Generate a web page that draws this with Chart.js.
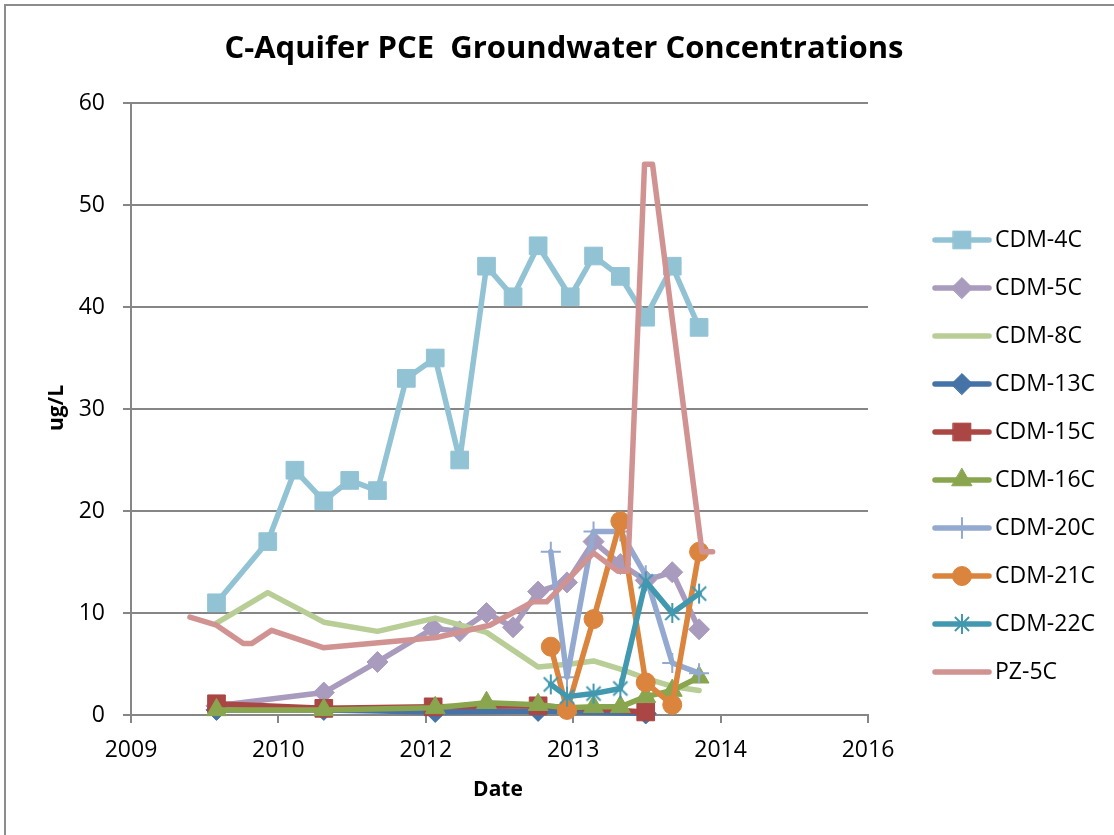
<!DOCTYPE html>
<html><head><meta charset="utf-8">
<script src="https://cdn.jsdelivr.net/npm/chart.js@4.4.1/dist/chart.umd.min.js"></script>
<style>
html,body{margin:0;padding:0;background:#fff;overflow:hidden;}
#wrap{position:relative;width:1114px;height:835px;}
</style></head><body>
<div id="wrap"><canvas id="c"></canvas></div>
<script>
// ---- Data (x = Excel serial date, y = ug/L) ----
const seriesNames = ['CDM-4C','CDM-5C','CDM-8C','CDM-13C','CDM-15C','CDM-16C','CDM-20C','CDM-21C','CDM-22C','PZ-5C'];

const cdm4cDates  = [40290,40464,40556,40654,40742,40836,40934,41032,41115,41206,41296,41381,41490,41569,41660,41746,41836,41927];
const cdm4cValues = [11,17,24,21,23,22,33,35,25,44,41,46,41,45,43,39,44,38];

const cdm5cDates  = [40290,40654,40836,41025,41115,41206,41296,41381,41479,41569,41660,41746,41836,41927];
const cdm5cValues = [0.9,2.2,5.2,8.5,8.2,10,8.6,12.1,13,17,14.8,13.2,14,8.4];

const cdm8cDates  = [40290,40464,40654,40836,41032,41206,41381,41490,41569,41660,41746,41836,41927];
const cdm8cValues = [9,12,9.1,8.2,9.5,8.1,4.7,5.0,5.3,4.5,3.6,2.8,2.4];

const cdm13cDates  = [40290,40654,41032,41381,41746];
const cdm13cValues = [0.5,0.5,0.3,0.4,0.15];

const cdm15cDates  = [40290,40654,41025,41381,41746];
const cdm15cValues = [1.1,0.65,0.8,0.9,0.3];

const cdm16cDates  = [40290,40654,41032,41206,41381,41479,41569,41660,41746,41836,41927];
const cdm16cValues = [0.5,0.5,0.7,1.2,1.0,0.7,0.8,0.8,1.8,2.4,3.7];

const cdm20cDates  = [41424,41479,41569,41660,41746,41836,41927];
const cdm20cValues = [16,3.7,18,18,13.7,5.1,4.1];

const cdm21cDates  = [41424,41479,41569,41660,41746,41836,41927];
const cdm21cValues = [6.7,0.5,9.4,19,3.2,1.0,16];

const cdm22cDates  = [41424,41479,41569,41660,41746,41836,41927];
const cdm22cValues = [3.0,1.8,2.1,2.6,13.1,10.0,11.9];

const pz5cDates  = [40200,40290,40381,40409,40477,40652,41036,41217,41364,41410,41569,41651,41685,41742,41769,41937,41973];
const pz5cValues = [9.6,8.8,7.0,7.0,8.3,6.6,7.6,8.8,11.1,11.1,15.9,14.1,14.1,54,54,16,16];

const xTickValues = [40000,40500,41000,41500,42000,42500];
const yTickValues = [0,10,20,30,40,50,60];

// ---- Styles ----
const colors = ['#92C3D5','#A99BBD','#B9CD96','#4572A7','#AA4643','#89A54E','#93A9CF','#DB843D','#4198AF','#D19392'];

function makeStar(color){
  const c = document.createElement('canvas');
  c.width = 22; c.height = 22;
  const g = c.getContext('2d');
  g.strokeStyle = color; g.lineWidth = 2; g.lineCap = 'butt';
  const cx = 11, cy = 11, r = 10;
  g.beginPath();
  g.moveTo(cx, cy - r); g.lineTo(cx, cy + r);
  const a = Math.PI/4;
  g.moveTo(cx - r*Math.cos(a), cy - r*Math.sin(a)); g.lineTo(cx + r*Math.cos(a), cy + r*Math.sin(a));
  g.moveTo(cx - r*Math.cos(a), cy + r*Math.sin(a)); g.lineTo(cx + r*Math.cos(a), cy - r*Math.sin(a));
  g.stroke();
  return c;
}
const starImg = makeStar(colors[8]);

const markerStyles = [
  {pointStyle:'rect', radius:12.5, bw:1},
  {pointStyle:'rectRot', radius:10.5, bw:1},
  {pointStyle:false, radius:0, bw:0},
  {pointStyle:'rectRot', radius:10.5, bw:1},
  {pointStyle:'rect', radius:12.5, bw:1},
  {pointStyle:'triangle', radius:11.5, bw:1},
  {pointStyle:'cross', radius:10, bw:2},
  {pointStyle:'circle', radius:9.5, bw:1},
  {pointStyle:starImg, radius:10, bw:2},
  {pointStyle:false, radius:0, bw:0}
];

const allDates = [cdm4cDates,cdm5cDates,cdm8cDates,cdm13cDates,cdm15cDates,cdm16cDates,cdm20cDates,cdm21cDates,cdm22cDates,pz5cDates];
const allValues = [cdm4cValues,cdm5cValues,cdm8cValues,cdm13cValues,cdm15cValues,cdm16cValues,cdm20cValues,cdm21cValues,cdm22cValues,pz5cValues];

const datasets = seriesNames.map((name,i)=>{
  const m = markerStyles[i];
  return {
    label: name,
    data: allDates[i].map((d,j)=>({x:d, y:allValues[i][j]})),
    borderColor: colors[i],
    backgroundColor: colors[i],
    borderWidth: 5.5,
    borderCapStyle: 'round',
    borderJoinStyle: 'round',
    tension: 0,
    pointStyle: m.pointStyle === false ? 'circle' : m.pointStyle,
    pointRadius: m.radius,
    pointHoverRadius: m.radius,
    pointBorderWidth: m.bw,
    pointBackgroundColor: colors[i],
    pointBorderColor: colors[i],
    clip: false,
    order: seriesNames.length - i
  };
});

function serialToYear(v){
  return new Date(Date.UTC(1899,11,30) + v*86400000).getUTCFullYear();
}

const FONT = "'Open Sans', 'Noto Sans', sans-serif";
const gridColor = '#868686';

const decorPlugin = {
  id: 'decor',
  beforeDraw(chart){
    const ctx = chart.ctx;
    ctx.save();
    ctx.fillStyle = '#fff';
    ctx.fillRect(0,0,chart.width,chart.height);
    ctx.strokeStyle = '#8c8c8c';
    ctx.lineWidth = 2;
    ctx.beginPath();
    ctx.moveTo(5, chart.height); ctx.lineTo(5,5); ctx.lineTo(chart.width,5);
    ctx.stroke();
    ctx.restore();
  },
  afterDraw(chart){
    const ctx = chart.ctx;
    ctx.save();
    ctx.fillStyle = '#000';
    ctx.textAlign = 'center';
    ctx.textBaseline = 'middle';
    ctx.font = "bold 31px " + FONT;
    ctx.fillText('C-Aquifer PCE  Groundwater Concentrations', 564, 49);
    ctx.font = "bold 21px " + FONT;
    ctx.fillText('Date', 498, 790);
    ctx.save();
    ctx.translate(57, 408);
    ctx.rotate(-Math.PI/2);
    ctx.fillText('ug/L', 0, 0);
    ctx.restore();
    // legend
    const H = Chart.helpers;
    chart.data.datasets.forEach((ds,i)=>{
      const y = 240 + i*48;
      ctx.strokeStyle = ds.borderColor;
      ctx.lineWidth = 5.5;
      ctx.lineCap = 'round';
      ctx.beginPath(); ctx.moveTo(935,y); ctx.lineTo(989,y); ctx.stroke();
      const m = markerStyles[i];
      if (m.pointStyle !== false){
        ctx.fillStyle = ds.borderColor;
        ctx.strokeStyle = ds.borderColor;
        ctx.lineWidth = m.bw;
        H.drawPoint(ctx, {pointStyle:m.pointStyle, rotation:0, radius:m.radius, borderWidth:m.bw}, 962, y);
      }
      ctx.fillStyle = '#000';
      ctx.textAlign = 'left';
      ctx.textBaseline = 'middle';
      ctx.font = "23px " + FONT;
      ctx.fillText(ds.label, 995, y);
    });
    ctx.restore();
  }
};

new Chart(document.getElementById('c'), {
  type: 'line',
  data: { datasets },
  options: {
    responsive: true,
    maintainAspectRatio: false,
    animation: false,
    events: [],
    layout: { padding: { left: 0, top: 103, right: 246, bottom: 0 } },
    plugins: { legend: { display: false }, title: { display: false }, tooltip: { enabled: false } },
    scales: {
      x: {
        type: 'linear',
        min: 40000, max: 42500,
        afterBuildTicks(scale){ scale.ticks = xTickValues.map(v=>({value:v})); },
        afterFit(scale){ scale.height = 120; },
        ticks: { color:'#000', font:{family:FONT, size:23}, padding: 14, maxRotation:0, autoSkip:false,
                 callback: v => String(serialToYear(v)) },
        grid: { display:true, drawOnChartArea:false, drawTicks:true, tickLength:8, color:gridColor, lineWidth:2 },
        border: { display:true, color:gridColor, width:2 }
      },
      y: {
        min: 0, max: 60,
        afterBuildTicks(scale){ scale.ticks = yTickValues.map(v=>({value:v})); },
        afterFit(scale){ scale.width = 131; },
        ticks: { color:'#000', font:{family:FONT, size:23}, padding: 18 },
        grid: { display:true, drawOnChartArea:true, drawTicks:true, tickLength:8, color:gridColor, lineWidth:2 },
        border: { display:true, color:gridColor, width:2 }
      }
    }
  },
  plugins: [decorPlugin]
});
</script>
</body></html>
